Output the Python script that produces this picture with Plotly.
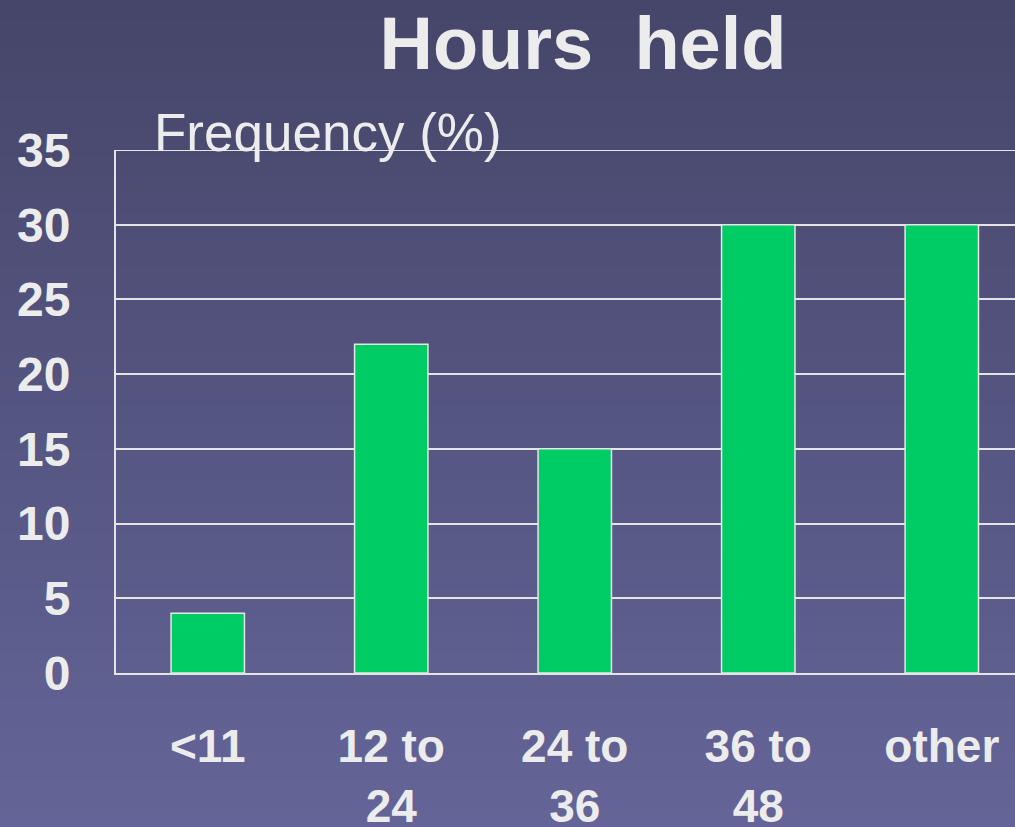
import plotly.graph_objects as go

categories = ["&lt;11", "12 to<br>24", "24 to<br>36", "36 to<br>48", "other"]
values = [4, 22, 15, 30, 30]
y_ticks = [0, 5, 10, 15, 20, 25, 30, 35]

W, H = 1015, 827
L, R, T, B = 116, 0, 150, 154
TXT = "#ececec"
GRID = "#e4e4e4"
FONT = "Liberation Sans, Arial, sans-serif"

fig = go.Figure()
fig.add_trace(go.Bar(
    x=categories, y=values,
    marker=dict(color="#00cc66", line=dict(color="#e6e6e6", width=1.5)),
    width=0.4,
))

# vertical background gradient bands
top = (70, 70, 106)
bot = (100, 100, 152)
n = 90
shapes = []
y_lo = -B / (H - T - B)
y_hi = 1 + T / (H - T - B)
for i in range(n):
    f = i / (n - 1)
    c = tuple(round(top[k] + (bot[k] - top[k]) * f) for k in range(3))
    y1 = y_hi - (y_hi - y_lo) * i / n
    y0 = y_hi - (y_hi - y_lo) * (i + 1) / n - 0.002
    shapes.append(dict(type="rect", xref="paper", yref="paper",
                       x0=-0.2, x1=1.1, y0=y0, y1=y1,
                       fillcolor="rgb(%d,%d,%d)" % c, line=dict(width=0),
                       layer="below"))
# top gridline at the edge of the value range
shapes.append(dict(type="line", xref="paper", yref="y", x0=0, x1=1,
                   y0=y_ticks[-1], y1=y_ticks[-1],
                   line=dict(color=GRID, width=2), layer="below"))

fig.update_layout(
    width=W, height=H, autosize=False,
    margin=dict(l=L, r=R, t=T, b=B, pad=0, autoexpand=False),
    paper_bgcolor="rgb(85,85,128)",
    plot_bgcolor="rgba(0,0,0,0)",
    showlegend=False,
    shapes=shapes,
    title=dict(text="Hours\u00a0 held", xref="container", yref="container",
               x=583 / W, y=1 - 43 / H, xanchor="center", yanchor="middle",
               font=dict(family=FONT, size=74, color=TXT, weight="bold")),
    xaxis=dict(range=[-0.5, 4.399], showgrid=False, showline=True,
               linecolor=GRID, linewidth=2, ticks="", ticklabelstandoff=32,
               automargin=False,
               tickfont=dict(family=FONT, size=46, color=TXT, weight="bold"),
               fixedrange=True),
    yaxis=dict(range=[0, 35], tickvals=y_ticks, showgrid=True,
               gridcolor=GRID, gridwidth=2, showline=True, linecolor=GRID,
               linewidth=2, zeroline=False, ticks="", ticklabelstandoff=34,
               automargin=False,
               tickfont=dict(family=FONT, size=48, color=TXT, weight="bold"),
               fixedrange=True),
    annotations=[dict(text="Frequency (%)", xref="paper", yref="paper",
                      x=(152 - L) / (W - L - R), y=(673 - 132) / (673 - 150),
                      xanchor="left", yanchor="middle", showarrow=False,
                      font=dict(family=FONT, size=53, color=TXT))],
)

fig.write_html("out.html", config={"displayModeBar": False},
               post_script="document.body.style.margin='0';"
                           "document.body.style.overflow='hidden';")
